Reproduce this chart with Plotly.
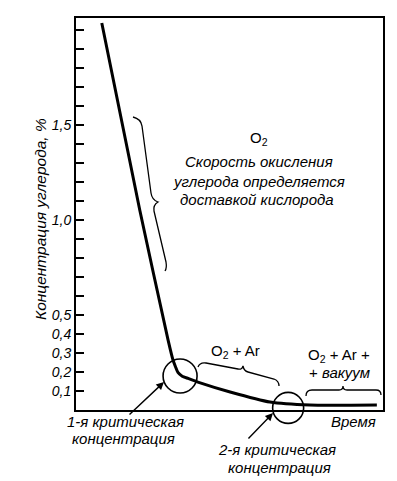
import plotly.graph_objects as go

# ---- data ----
time = [8.4, 20.8, 30.0, 31.6, 32.4, 33.2, 34.6, 36.5, 39.7, 50.2, 63.2, 76.2, 98.0]
carbon = [2.037, 1.05, 0.368, 0.263, 0.228, 0.198, 0.178, 0.166, 0.147, 0.095, 0.042, 0.026, 0.026]

crit_time = [33.9, 69.1]
crit_carbon = [0.179, 0.011]

tick_vals = [round(0.1 * i, 1) for i in range(1, 21)]
tick_labels = {0.1: "0,1", 0.2: "0,2", 0.3: "0,3", 0.4: "0,4", 0.5: "0,5", 1.0: "1,0", 1.5: "1,5"}
tick_text = [tick_labels.get(v, "") for v in tick_vals]

X_MAX = 100.0
Y_TOP = 2.063

W, H = 397, 481
L, R, T, B = 76, 14, 18, 71
PW = W - L - R
PH = H - T - B

FONT = "Liberation Sans"


def P(xp, yp):
    """pixel -> paper coordinates"""
    return ((xp - L) / PW, (T + PH - yp) / PH)


def path(cmds):
    out = []
    for c in cmds:
        op = c[0]
        pts = c[1:]
        coords = []
        for i in range(0, len(pts), 2):
            x, y = P(pts[i], pts[i + 1])
            coords.append(f"{x:.5f},{y:.5f}")
        out.append(op + " " + " ".join(coords))
    return " ".join(out)


fig = go.Figure()
fig.add_trace(go.Scatter(x=time, y=carbon, mode="lines",
                         line=dict(color="black", width=3, shape="spline", smoothing=0.5),
                         hoverinfo="skip"))

shapes = []
# circles at critical concentrations (paper refs so they are not clipped)
radii_px = [17, 15.5]
for cx, cy, r in zip(crit_time, crit_carbon, radii_px):
    px = cx / X_MAX
    py = cy / Y_TOP
    rx = r / PW
    ry = r / PH
    shapes.append(dict(type="circle", xref="paper", yref="paper",
                       x0=px - rx, x1=px + rx, y0=py - ry, y1=py + ry,
                       line=dict(color="black", width=1.6)))

# braces
brace1 = path([("M", 133, 117), ("Q", 141, 119, 142, 126), ("L", 151, 193),
               ("Q", 152, 200, 158, 202), ("Q", 153, 205, 154, 211), ("L", 166, 262),
               ("Q", 167, 268, 165, 271)])
brace2 = path([("M", 198, 367), ("Q", 200, 362, 206, 363), ("L", 238, 369),
               ("Q", 242, 370, 243, 366), ("Q", 244, 371, 248, 372), ("L", 274, 379),
               ("Q", 279, 381, 279, 386)])
brace3 = path([("M", 306, 396), ("Q", 306, 390, 312, 390), ("L", 339, 390),
               ("Q", 343, 390, 343, 386), ("Q", 343, 390, 347, 390), ("L", 376, 390),
               ("Q", 381, 390, 381, 395)])
for p in (brace1, brace2, brace3):
    shapes.append(dict(type="path", xref="paper", yref="paper", path=p,
                       line=dict(color="black", width=1.3)))

annotations = []


def text(xp, yp, s, size=15, italic=True):
    x, y = P(xp, yp)
    annotations.append(dict(x=x, y=y, xref="paper", yref="paper", text=s, showarrow=False,
                            xanchor="center", yanchor="middle",
                            font=dict(family=FONT, size=size, color="black",
                                      style="italic" if italic else "normal")))


text(259, 138, "O<sub>2</sub>", 15, False)
text(259, 161, "Скорость окисления")
text(259, 181, "углерода определяется")
text(257, 199, "доставкой кислорода")
text(235, 351, "O<sub>2</sub> + Ar", 15, False)
text(339, 355, "O<sub>2</sub> + Ar +", 15, False)
text(339, 372, "+ <i>вакуум</i>", 15, False)
text(353, 421, "Время")
text(125, 421, "1-я критическая")
text(123, 438, "концентрация")
text(277, 450, "2-я критическая")
text(279, 467, "концентрация")

# y axis title
xt, yt = P(40, 219)
annotations.append(dict(x=xt, y=yt, xref="paper", yref="paper", text="Концентрация углерода, %",
                        textangle=-90, showarrow=False, xanchor="center", yanchor="middle",
                        font=dict(family=FONT, size=15.5, color="black", style="italic")))

# arrows
for tip, tail in (((164, 382), (128, 416)), ((273, 413), (247, 440))):
    x, y = P(*tip)
    annotations.append(dict(x=x, y=y, xref="paper", yref="paper", text="", showarrow=True,
                            ax=tail[0] - tip[0], ay=tail[1] - tip[1],
                            arrowhead=2, arrowsize=1.1, arrowwidth=1.4, arrowcolor="black"))

fig.update_layout(
    width=W, height=H,
    margin=dict(l=L, r=R, t=T, b=B),
    paper_bgcolor="white", plot_bgcolor="white",
    showlegend=False,
    shapes=shapes, annotations=annotations,
    xaxis=dict(range=[0, X_MAX], showgrid=False, zeroline=False, showticklabels=False,
               ticks="", showline=True, mirror=True, linecolor="black", linewidth=2),
    yaxis=dict(range=[0, Y_TOP], showgrid=False, zeroline=False,
               tickmode="array", tickvals=tick_vals, ticktext=tick_text,
               ticks="inside", ticklen=8, tickwidth=2, tickcolor="black",
               tickfont=dict(family=FONT, size=14, color="black", style="italic"),
               showline=True, mirror=True, linecolor="black", linewidth=2),
)

fig.write_html("out.html", config={"displayModeBar": False},
               post_script="document.body.style.margin='0';document.body.style.overflow='hidden';")
